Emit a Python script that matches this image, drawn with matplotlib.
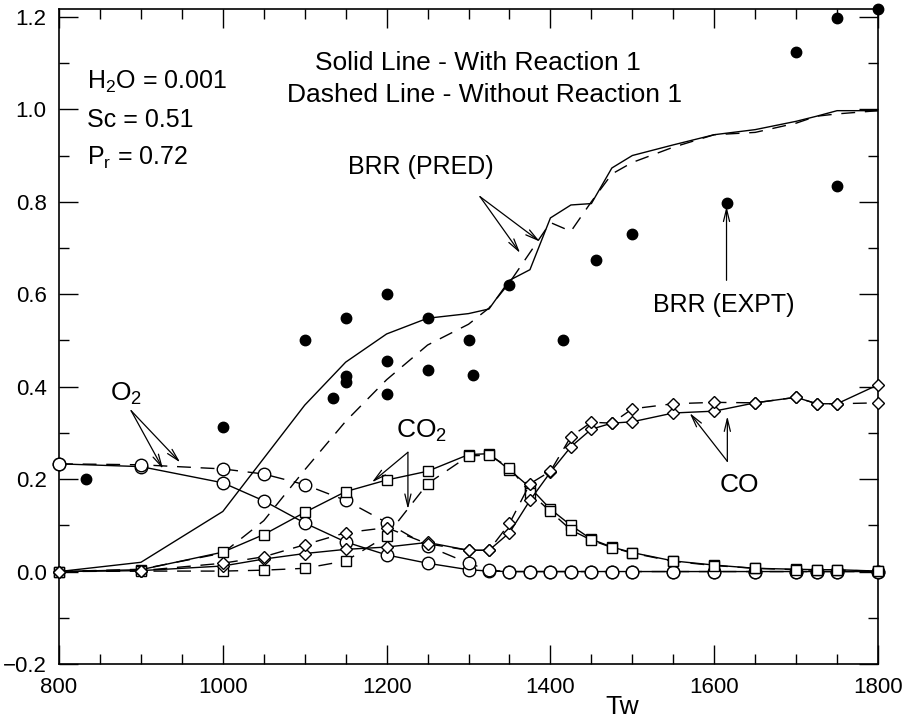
import matplotlib
matplotlib.use("Agg")
import matplotlib.pyplot as plt
from matplotlib.ticker import MultipleLocator, FuncFormatter

plt.rcParams["font.family"] = ["Liberation Sans", "DejaVu Sans"]
plt.rcParams["mathtext.fontset"] = "custom"
plt.rcParams["mathtext.rm"] = "Liberation Sans"
plt.rcParams["mathtext.it"] = "Liberation Sans"

# --- data --------------------------------------------------------------
tw = [800, 900, 1000, 1050, 1100, 1150, 1200, 1250, 1300, 1325, 1350, 1375,
      1400, 1425, 1450, 1475, 1500, 1550, 1600, 1650, 1700, 1725, 1750, 1800]

o2_solid = [0.233, 0.227, 0.192, 0.153, 0.105, 0.064, 0.036, 0.018, 0.004,
            0.001, 0, 0, 0, 0, 0, 0, 0, 0, 0, 0, 0, 0, 0, 0]
o2_dashed = [0.233, 0.231, 0.222, 0.211, 0.188, 0.154, 0.106, 0.055, 0.018,
             0.003, 0, 0, 0, 0, 0, 0, 0, 0, 0, 0, 0, 0, 0, 0]

co2_solid = [0, 0.004, 0.042, 0.080, 0.128, 0.173, 0.198, 0.217, 0.253,
             0.255, 0.220, 0.182, 0.135, 0.100, 0.070, 0.053, 0.041, 0.023,
             0.014, 0.007, 0.005, 0.004, 0.004, 0.001]
co2_dashed = [0, 0.001, 0.001, 0.003, 0.007, 0.023, 0.077, 0.190, 0.250,
              0.252, 0.225, 0.170, 0.130, 0.090, 0.068, 0.052, 0.040, 0.022,
              0.013, 0.007, 0.004, 0.003, 0.003, 0.001]

co_solid = [0, 0.002, 0.012, 0.027, 0.039, 0.048, 0.053, 0.063, 0.046, 0.046,
            0.084, 0.154, 0.215, 0.270, 0.308, 0.321, 0.324, 0.343, 0.347,
            0.365, 0.377, 0.363, 0.363, 0.404]
co_dashed = [0, 0.002, 0.018, 0.032, 0.058, 0.084, 0.095, 0.060, 0.046, 0.046,
             0.104, 0.190, 0.217, 0.292, 0.323, 0.321, 0.352, 0.363, 0.366,
             0.365, 0.377, 0.363, 0.363, 0.365]

brr_solid = [0, 0.020, 0.130, 0.245, 0.360, 0.453, 0.514, 0.548, 0.558, 0.568,
             0.630, 0.653, 0.765, 0.793, 0.796, 0.873, 0.900, 0.923, 0.945,
             0.956, 0.974, 0.985, 0.997, 0.997]
brr_dashed = [0, 0.005, 0.040, 0.110, 0.220, 0.325, 0.415, 0.490, 0.535,
              0.570, 0.625, 0.690, 0.755, 0.736, 0.800, 0.860, 0.885, 0.918,
              0.945, 0.950, 0.970, 0.985, 0.990, 0.997]

expt_tw = [833, 1000, 1100, 1135, 1150, 1150, 1150, 1200, 1200, 1200, 1250,
           1250, 1300, 1305, 1350, 1415, 1456, 1500, 1615, 1700, 1750, 1750,
           1800]
expt_brr = [0.200, 0.313, 0.500, 0.376, 0.549, 0.422, 0.411, 0.600, 0.455,
            0.385, 0.549, 0.437, 0.500, 0.426, 0.620, 0.500, 0.675, 0.730,
            0.798, 1.123, 1.197, 0.833, 1.217]

# --- figure ------------------------------------------------------------
fig = plt.figure(figsize=(9.08, 7.18), dpi=100)
ax = fig.add_axes([0.065, 0.0752, 0.902, 0.9123])

DASH = (10, 7)
mk = dict(mfc="white", mec="black", mew=1.0, clip_on=False, zorder=3)

ax.plot(tw, brr_solid, "k-", lw=1.0)
ax.plot(tw, brr_dashed, "k--", lw=1.0, dashes=DASH)

ax.plot(tw, o2_solid, "k-", lw=1.0, marker="o", ms=9, **mk)
ax.plot(tw, o2_dashed, "k--", lw=1.0, dashes=DASH, marker="o", ms=9, **mk)
ax.plot(tw, co2_solid, "k-", lw=1.0, marker="s", ms=6.5, **mk)
ax.plot(tw, co2_dashed, "k--", lw=1.0, dashes=DASH, marker="s", ms=6.5, **mk)
ax.plot(tw, co_solid, "k-", lw=1.0, marker="D", ms=6.5, **mk)
ax.plot(tw, co_dashed, "k--", lw=1.0, dashes=DASH, marker="D", ms=6.5, **mk)

ax.plot(expt_tw, expt_brr, "ko", ms=7.5, ls="none", clip_on=False, zorder=4)

ax.set_xlim(800, 1800)
ax.set_ylim(-0.2, 1.217)
ax.xaxis.set_major_locator(MultipleLocator(200))
ax.xaxis.set_minor_locator(MultipleLocator(50))
ax.yaxis.set_major_locator(MultipleLocator(0.2))
ax.yaxis.set_minor_locator(MultipleLocator(0.1))
ax.yaxis.set_major_formatter(FuncFormatter(
    lambda v, p: f"{v:.1f}".replace("-", "\u2212")))
ax.tick_params(which="both", direction="in", top=True, right=True,
               width=1.0, labelsize=16)
ax.tick_params(which="major", length=14, pad=9)
ax.tick_params(which="minor", length=7)
for s in ax.spines.values():
    s.set_linewidth(1.2)

fig.text(0.685, 0.016, "Tw", fontsize=19, ha="center", va="center")

FS = 18
ax.text(834, 1.06, "H$_\\mathrm{2}$O = 0.001", fontsize=FS, va="center")
ax.text(834, 0.977, "Sc = 0.51", fontsize=FS, va="center")
ax.text(834, 0.895, "P$_\\mathrm{r}$ = 0.72", fontsize=FS, va="center")
ax.text(1311, 1.10, "Solid Line - With Reaction 1", fontsize=19,
        ha="center", va="center")
ax.text(1319, 1.031, "Dashed Line - Without Reaction 1", fontsize=19,
        ha="center", va="center")

ap = dict(arrowstyle="->,head_length=0.9,head_width=0.22", lw=0.9,
          color="k", shrinkA=0, shrinkB=0)

ax.text(882, 0.385, "O$_\\mathrm{2}$", fontsize=19, ha="center", va="center")
for xy in [(927, 0.222), (948, 0.236)]:
    ax.annotate("", xy=xy, xytext=(888, 0.348), arrowprops=ap)

ax.text(1243, 0.305, "CO$_\\mathrm{2}$", fontsize=19, ha="center",
        va="center")
for xy in [(1182, 0.193), (1226, 0.135)]:
    ax.annotate("", xy=xy, xytext=(1226, 0.258), arrowprops=ap)

ax.text(1242, 0.876, "BRR (PRED)", fontsize=FS, ha="center", va="center")
for xy in [(1363, 0.689), (1387, 0.714)]:
    ax.annotate("", xy=xy, xytext=(1314, 0.811), arrowprops=ap)

ax.text(1612, 0.577, "BRR (EXPT)", fontsize=FS, ha="center", va="center")
ax.annotate("", xy=(1615, 0.79), xytext=(1615, 0.63), arrowprops=ap)

ax.text(1631, 0.188, "CO", fontsize=19, ha="center", va="center")
for xy in [(1570, 0.343), (1616, 0.336)]:
    ax.annotate("", xy=xy, xytext=(1616, 0.2385), arrowprops=ap)

fig.savefig("out.png", dpi=100)
